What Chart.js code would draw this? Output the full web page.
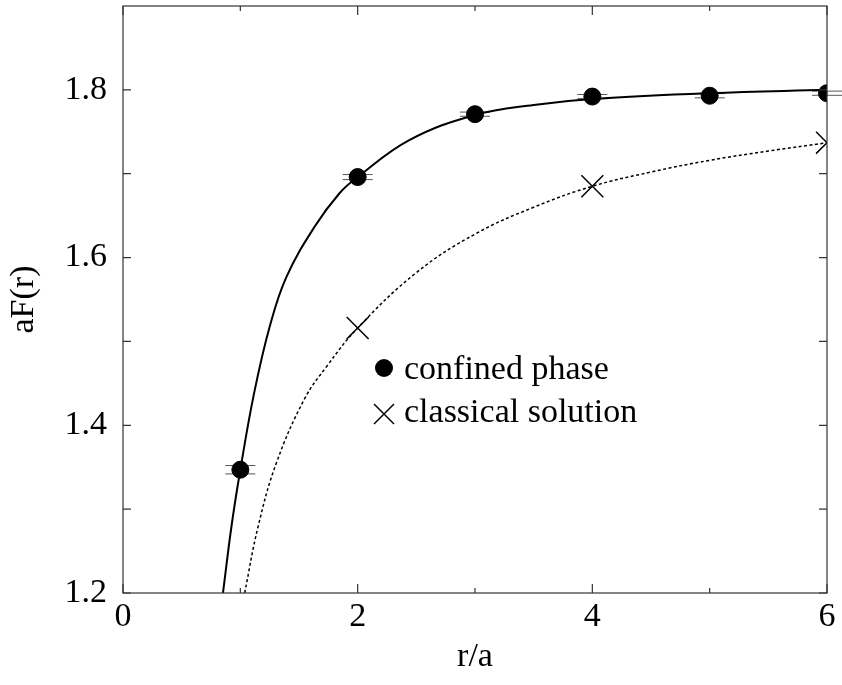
<!DOCTYPE html>
<html>
<head>
<meta charset="utf-8">
<script src="https://cdn.jsdelivr.net/npm/chart.js@4.4.1/dist/chart.umd.min.js"></script>
<style>
    html, body { margin: 0; padding: 0; background: #fff; }
    #wrap { width: 842px; height: 685px; position: relative; }
</style>
</head>
<body>
<div id="wrap"><canvas id="chart"></canvas></div>
<script>
// measured points
const rValues = [1, 2, 3, 4, 5, 6];
const confinedF = [1.347, 1.696, 1.771, 1.792, 1.793, 1.796];
const confinedErr = [0.005, 0.003, 0.0025, 0.0025, 0.0025, 0.0025];
const classicalR = [2, 4, 6];
const classicalF = [1.516, 1.685, 1.737];

// curves
const fitR = [0.852, 0.924, 1.0, 1.117, 1.251, 1.393, 1.634, 1.847, 2.0, 2.44, 3.0, 3.5, 4.0, 5.0, 6.0];
const fitF = [1.2, 1.279, 1.347, 1.438, 1.518, 1.577, 1.637, 1.677, 1.696, 1.740, 1.770, 1.782, 1.789, 1.796, 1.800];
const classicalCurveR = [1.037, 1.151, 1.307, 1.549, 1.735, 2.0, 2.5, 3.0, 3.5, 4.0, 4.5, 5.0, 5.5, 6.0];
const classicalCurveF = [1.2, 1.279, 1.355, 1.432, 1.470, 1.516, 1.582, 1.628, 1.66, 1.685, 1.702, 1.716, 1.727, 1.737];

// axes
const xTickValues = [0, 2, 4, 6];
const xMinorTicks = [1, 3, 5];
const yTickValues = [1.2, 1.4, 1.6, 1.8];
const yMinorTicks = [1.3, 1.5, 1.7];
const legendLabels = ['confined phase', 'classical solution'];

const FONT = '"Liberation Serif", "Times New Roman", serif';

function toXY(xs, ys) {
    return xs.map((x, i) => ({ x: x, y: ys[i] }));
}

const framePlugin = {
    id: 'frame',
    beforeDatasetsDraw(chart) {
        // error bars under the markers
        const ctx = chart.ctx;
        const xs = chart.scales.x, ys = chart.scales.y;
        ctx.save();
        ctx.strokeStyle = '#555';
        ctx.lineWidth = 1;
        rValues.forEach((r, i) => {
            const px = xs.getPixelForValue(r);
            const hi = ys.getPixelForValue(confinedF[i] + confinedErr[i]);
            const lo = ys.getPixelForValue(confinedF[i] - confinedErr[i]);
            ctx.beginPath();
            ctx.moveTo(px, hi); ctx.lineTo(px, lo);
            ctx.moveTo(px - 15, hi); ctx.lineTo(px + 15, hi);
            ctx.moveTo(px - 15, lo); ctx.lineTo(px + 15, lo);
            ctx.stroke();
        });
        ctx.restore();
    },
    afterDatasetsDraw(chart) {
        const ctx = chart.ctx;
        const a = chart.chartArea;
        const xs = chart.scales.x, ys = chart.scales.y;
        ctx.save();
        ctx.strokeStyle = '#333';
        ctx.lineWidth = 1.2;
        ctx.strokeRect(a.left, a.top, a.right - a.left, a.bottom - a.top);

        // inward ticks on all four sides
        ctx.beginPath();
        const xTick = (v, len) => {
            const p = xs.getPixelForValue(v);
            ctx.moveTo(p, a.bottom); ctx.lineTo(p, a.bottom - len);
            ctx.moveTo(p, a.top); ctx.lineTo(p, a.top + len);
        };
        const yTick = (v, len) => {
            const p = ys.getPixelForValue(v);
            ctx.moveTo(a.left, p); ctx.lineTo(a.left + len, p);
            ctx.moveTo(a.right, p); ctx.lineTo(a.right - len, p);
        };
        xTickValues.forEach(v => xTick(v, 9));
        xMinorTicks.forEach(v => xTick(v, 5));
        yTickValues.forEach(v => yTick(v, 8));
        yMinorTicks.forEach(v => yTick(v, 8));
        ctx.stroke();

        // key
        const lx = a.left + 261, ly = a.top + 362;
        ctx.fillStyle = '#000';
        ctx.beginPath();
        ctx.arc(lx, ly, 9, 0, Math.PI * 2);
        ctx.fill();
        ctx.strokeStyle = '#000';
        ctx.lineWidth = 1.5;
        ctx.beginPath();
        ctx.moveTo(lx - 10, ly + 36); ctx.lineTo(lx + 10, ly + 56);
        ctx.moveTo(lx + 10, ly + 36); ctx.lineTo(lx - 10, ly + 56);
        ctx.stroke();
        ctx.font = '34px ' + FONT;
        ctx.textBaseline = 'alphabetic';
        ctx.textAlign = 'left';
        ctx.fillText(legendLabels[0], lx + 20, ly + 11);
        ctx.fillText(legendLabels[1], lx + 20, ly + 54);
        ctx.restore();
    }
};

new Chart(document.getElementById('chart'), {
    type: 'scatter',
    data: {
        datasets: [
            {
                label: legendLabels[0],
                data: toXY(rValues, confinedF),
                pointStyle: 'circle',
                pointRadius: 8.5,
                backgroundColor: '#000',
                borderColor: '#000',
                showLine: false
            },
            {
                label: legendLabels[1],
                data: toXY(classicalR, classicalF),
                pointStyle: 'crossRot',
                pointRadius: 15.5,
                borderColor: '#000',
                borderWidth: 1.5,
                showLine: false
            },
            {
                label: 'fit',
                data: toXY(fitR, fitF),
                showLine: true,
                pointRadius: 0,
                borderColor: '#000',
                borderWidth: 2,
                tension: 0.4
            },
            {
                label: 'classical curve',
                data: toXY(classicalCurveR, classicalCurveF),
                showLine: true,
                pointRadius: 0,
                borderColor: '#000',
                borderWidth: 1.5,
                borderDash: [3, 2.5],
                tension: 0.4
            }
        ]
    },
    options: {
        responsive: true,
        maintainAspectRatio: false,
        animation: false,
        devicePixelRatio: 1,
        layout: { autoPadding: false, padding: { left: 0, right: 15, top: 6, bottom: 0 } },
        plugins: {
            legend: { display: false },
            tooltip: { enabled: false }
        },
        scales: {
            x: {
                type: 'linear',
                min: 0,
                max: 6,
                afterBuildTicks: s => { s.ticks = xTickValues.map(v => ({ value: v })); },
                afterFit: s => { s.height = 92; s.paddingLeft = 0; s.paddingRight = 0; },
                grid: { display: false, drawTicks: false },
                border: { display: false },
                ticks: {
                    color: '#000',
                    padding: 4,
                    font: { family: FONT, size: 34 },
                    maxRotation: 0,
                    callback: v => String(v)
                },
                title: {
                    display: true,
                    text: 'r/a',
                    color: '#000',
                    font: { family: FONT, size: 34, lineHeight: 1.2 },
                    padding: { top: 0, bottom: 8 }
                }
            },
            y: {
                type: 'linear',
                min: 1.2,
                max: 1.9,
                afterBuildTicks: s => { s.ticks = yTickValues.map(v => ({ value: v })); },
                afterFit: s => { s.width = 123; s.paddingTop = 0; s.paddingBottom = 0; },
                grid: { display: false, drawTicks: false },
                border: { display: false },
                ticks: {
                    color: '#000',
                    padding: 16,
                    font: { family: FONT, size: 34 },
                    callback: v => v.toFixed(1)
                },
                title: {
                    display: true,
                    text: 'aF(r)',
                    color: '#000',
                    font: { family: FONT, size: 34, lineHeight: 1.2 },
                    padding: { top: 4, bottom: 0 }
                }
            }
        }
    },
    plugins: [framePlugin]
});
</script>
</body>
</html>
